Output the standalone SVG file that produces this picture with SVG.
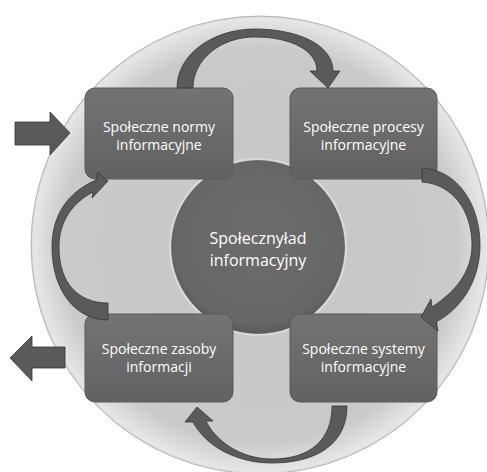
<svg xmlns="http://www.w3.org/2000/svg" width="487" height="472" viewBox="0 0 487 472">
  <defs>
    <radialGradient id="bg" cx="260" cy="245" r="230" gradientUnits="userSpaceOnUse">
      <stop offset="0" stop-color="#c7c7c7"/>
      <stop offset="0.86" stop-color="#cacaca"/>
      <stop offset="0.94" stop-color="#dcdcdc"/>
      <stop offset="0.985" stop-color="#e6e6e6"/>
      <stop offset="1" stop-color="#cccccc"/>
    </radialGradient>
    <linearGradient id="boxg" x1="0" y1="0" x2="0" y2="1">
      <stop offset="0" stop-color="#737373"/>
      <stop offset="1" stop-color="#626262"/>
    </linearGradient>
    <radialGradient id="hubg" cx="0.5" cy="0.45" r="0.55">
      <stop offset="0" stop-color="#6c6c6c"/>
      <stop offset="0.9" stop-color="#666666"/>
      <stop offset="1" stop-color="#5a5a5a"/>
    </radialGradient>
  </defs>
  <style>
    .box { fill: url(#boxg); stroke: #5a5a5a; stroke-width: 1; }
    .lbl { font-family: "Open Sans", "Liberation Sans", sans-serif; font-size: 14px; fill: #ffffff; text-anchor: middle; }
    .hub { font-family: "Open Sans", "Liberation Sans", sans-serif; font-size: 16px; fill: #ffffff; text-anchor: middle; }
    .arr { fill: #5a5a5a; stroke: #363636; stroke-width: 0.8; stroke-linejoin: round; }
  </style>
  <rect width="487" height="472" fill="#ffffff"/>
  <circle cx="260" cy="245" r="229" fill="url(#bg)" stroke="#a8a8a8" stroke-width="0.8"/>

  <g id="hub">
    <circle cx="258" cy="247" r="89" fill="#dadada"/>
    <circle cx="258" cy="247" r="86.5" fill="url(#hubg)" stroke="#505050" stroke-width="0.6"/>
    <text class="hub" x="258" y="244">Społecznyład</text>
    <text class="hub" x="258" y="266">informacyjny</text>
  </g>

  <g id="norms">
    <rect class="box" x="85" y="88" width="148" height="91" rx="10"/>
    <text class="lbl" x="159" y="132">Społeczne normy</text>
    <text class="lbl" x="159" y="150">informacyjne</text>
  </g>
  <g id="processes">
    <rect class="box" x="290" y="88" width="147" height="91" rx="10"/>
    <text class="lbl" x="363.5" y="132">Społeczne procesy</text>
    <text class="lbl" x="363.5" y="150">informacyjne</text>
  </g>
  <g id="resources">
    <rect class="box" x="85" y="314" width="148" height="88" rx="10"/>
    <text class="lbl" x="159" y="354">Społeczne zasoby</text>
    <text class="lbl" x="159" y="372">informacji</text>
  </g>
  <g id="systems">
    <rect class="box" x="290" y="314" width="147" height="88" rx="10"/>
    <text class="lbl" x="363.5" y="354">Społeczne systemy</text>
    <text class="lbl" x="363.5" y="372">informacyjne</text>
  </g>

  <g id="connectors">
    <path class="arr" d="M177,88 C177,55 212,29 255,29 C298,29 333,45 333,71 L340,71 L328,88 L310,71 L317,71 C317,50 290,37 255,37 C220,37 193,60 193,88 Z"/>
    <path class="arr" d="M422,168 C458,170 480,205 480,245 C480,280 462,308 436,322 L438,331 L421,317 L431,299 L432,307 C455,292 472,272 472,245 C472,210 452,184 422,182 Z"/>
    <path class="arr" d="M347,406 C347,445 315,463 272,463 C235,463 205,445 193,422 L185,422 L197,407 L213,421 L206,421 C215,440 240,459 272,459 C310,459 332,440 332,406 Z"/>
    <path class="arr" d="M108,320 C75,320 52,290 52,247 C52,215 68,192 96,180 L98,172 L108,181 L92,198 L93,192 C72,203 59,222 59,247 C59,283 78,303 108,303 Z"/>
    <polygon class="arr" points="15,122 50,122 50,112 70,133 50,155 50,145 15,145"/>
    <polygon class="arr" points="65,347 32,347 32,336 10,358 32,381 32,368 65,368"/>
  </g>
</svg>
